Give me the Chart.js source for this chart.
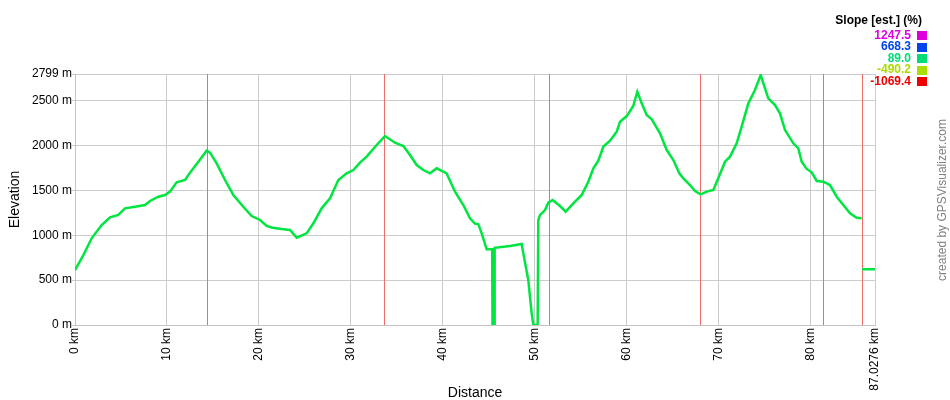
<!DOCTYPE html>
<html>
<head>
<meta charset="utf-8">
<script src="https://cdn.jsdelivr.net/npm/chart.js@4.4.0/dist/chart.umd.min.js"></script>
<style>
body{margin:0;background:#fff;}
canvas{display:block;}
</style>
</head>
<body>
<canvas id="profile" width="950" height="400"></canvas>
<script>
/* DATA */
const distanceKm = [0,0.91,1.81,2.9,3.81,4.71,5.44,6.53,7.61,8.16,9.07,9.79,10.33,11.06,11.97,12.51,13.42,14.32,14.69,15.41,16.32,17.22,18.31,19.22,20.13,20.85,21.5,22.48,23.39,24.12,25.2,25.93,26.83,27.74,28.65,29.55,30.28,31.0,31.73,32.82,33.72,34.81,35.72,36.44,37.17,37.89,38.62,39.35,40.43,41.34,42.24,42.97,43.5,43.87,44.24,44.78,45.38,45.42,45.6,45.65,47.32,48.59,48.77,49.31,49.68,49.86,50.33,50.4,50.59,51.13,51.49,51.96,52.76,53.38,54.21,55.12,55.84,56.39,56.93,57.47,58.2,58.93,59.29,60.02,60.73,61.17,61.65,62.19,62.74,63.64,64.37,65.09,65.74,66.18,66.9,67.45,68.06,68.72,69.44,69.98,70.71,71.25,71.98,72.52,73.25,73.97,74.59,75.06,75.42,76.15,76.69,77.24,78.14,78.69,79.05,79.6,80.14,80.69,81.41,82.13,82.86,83.58,84.31,85.03,85.58,85.6,85.62,87.0276];
const elevationM = [613,780,967,1115,1201,1227,1301,1319,1338,1383,1431,1450,1487,1591,1617,1699,1821,1944,1922,1803,1617,1450,1319,1215,1171,1104,1085,1070,1059,974,1022,1134,1301,1413,1617,1691,1728,1810,1877,2007,2107,2033,1996,1896,1784,1728,1691,1747,1691,1487,1338,1190,1130,1125,1022,844,844,0,0,860,881,903,799,502,130,0,0,1171,1227,1282,1364,1394,1327,1264,1357,1450,1598,1747,1832,1988,2055,2156,2267,2330,2442,2602,2472,2342,2294,2138,1951,1840,1691,1636,1561,1494,1457,1487,1505,1636,1821,1877,2026,2211,2472,2620,2788,2639,2528,2453,2360,2174,2026,1970,1821,1740,1703,1606,1598,1561,1431,1338,1245,1196,1190,null,621,621];
const xTicks = [0,10,20,30,40,50,60,70,80,87.0276];
const yTicks = [0,500,1000,1500,2000,2500,2799];
const markerKm = [14.36,33.61,51.56,67.99,81.37,85.61];
const slopeValues = [1247.5,668.3,89.0,-490.2,-1069.4];
const slopeColors = ['#dd00dd','#0044ee','#00dd77','#aadd00','#ee0000'];

const FONT = '"Liberation Sans", Arial, sans-serif';

/* EXTRAS: waypoint lines, slope legend, credit */
const extras = {
id:'extras',
beforeDatasetsDraw(chart){
const ctx = chart.ctx, area = chart.chartArea, xs = chart.scales.x;
ctx.save();
ctx.strokeStyle = '#f26b6b';
ctx.lineWidth = 1;
markerKm.forEach(km => {
const px = Math.round(xs.getPixelForValue(km)) + 0.5;
ctx.beginPath();
ctx.moveTo(px, area.top);
ctx.lineTo(px, area.bottom);
ctx.stroke();
});
ctx.restore();
},
afterDraw(chart){
const ctx = chart.ctx;
ctx.save();
ctx.textBaseline = 'middle';
ctx.textAlign = 'right';
ctx.font = 'bold 12px ' + FONT;
ctx.fillStyle = '#000';
ctx.fillText('Slope [est.] (%)', 922, 21);
slopeValues.forEach((v, i) => {
const cy = 35.5 + i * 11.5;
ctx.fillStyle = slopeColors[i];
ctx.fillText(v.toFixed(1), 911, cy);
ctx.fillRect(917, Math.round(cy - 4.5), 10, 9);
});
ctx.translate(943, 200);
ctx.rotate(-Math.PI / 2);
ctx.textAlign = 'center';
ctx.font = '12px ' + FONT;
ctx.fillStyle = '#808080';
ctx.fillText('created by GPSVisualizer.com', 0, 0);
ctx.restore();
}
};

/* ELEVATION PROFILE */
const profile = new Chart(
document.getElementById('profile'),
{
type:'line',
data:{
datasets:[
{
data:distanceKm.map((km, i) => ({x:km, y:elevationM[i]})),
borderColor:'#00e641',
borderWidth:2.5,
pointRadius:0,
tension:0,
spanGaps:false,
fill:false
}
]
},
options:{
responsive:false,
animation:false,
layout:{padding:{top:74,right:75,left:0,bottom:0}},
plugins:{legend:{display:false},tooltip:{enabled:false}},
scales:{
x:{
type:'linear',
min:0,
max:87.0276,
afterBuildTicks:s => { s.ticks = xTicks.map(v => ({value:v})); },
afterFit:s => { s.height = 75; },
ticks:{
autoSkip:false,
minRotation:90,
maxRotation:90,
padding:3,
color:'#000',
font:{family:FONT,size:12},
callback:v => v + ' km'
},
grid:{color:'#cccccc',drawTicks:false},
border:{color:'#c4c4c4'},
title:{display:true,text:'Distance',color:'#000',font:{family:FONT,size:14,lineHeight:1},padding:0}
},
y:{
min:0,
max:2799,
afterBuildTicks:s => { s.ticks = yTicks.map(v => ({value:v})); },
afterFit:s => { s.width = 75; },
ticks:{
padding:0,
color:'#000',
font:{family:FONT,size:12},
callback:v => v + ' m'
},
grid:{color:'#cccccc',tickLength:3},
border:{color:'#c4c4c4'},
title:{display:true,text:'Elevation',color:'#000',font:{family:FONT,size:14,lineHeight:1},padding:{top:8,bottom:0}}
}
}
},
plugins:[extras]
}
);
</script>
</body>
</html>
